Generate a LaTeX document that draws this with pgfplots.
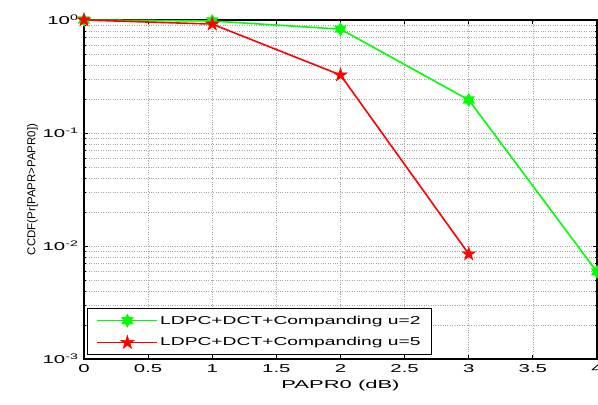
\documentclass[border=0pt]{standalone}
\usepackage{fontspec}
\setmainfont{Liberation Sans}
\newfontfamily\widefont[FakeStretch=1.78]{Liberation Sans}
\newfontfamily\legfont[FakeStretch=1.68]{Liberation Sans}
\newfontfamily\widerfont[FakeStretch=1.92]{Liberation Sans}
\usepackage{pgfplots}
\pgfplotsset{compat=1.18}
\pgfdeclareplotmark{hexstar}{%
  \pgfpathmoveto{\pgfqpointpolar{90}{\pgfplotmarksize}}%
  \foreach \a in {1,...,11}{%
    \pgfmathsetmacro{\ang}{90+30*\a}%
    \ifodd\a
      \pgfpathlineto{\pgfpointpolar{\ang}{0.577\pgfplotmarksize}}%
    \else
      \pgfpathlineto{\pgfpointpolar{\ang}{\pgfplotmarksize}}%
    \fi}%
  \pgfpathclose
  \pgfusepathqfillstroke}
\pgfdeclareplotmark{pentstar}{%
  \pgfpathmoveto{\pgfqpointpolar{90}{\pgfplotmarksize}}%
  \foreach \a in {1,...,9}{%
    \pgfmathsetmacro{\ang}{90+36*\a}%
    \ifodd\a
      \pgfpathlineto{\pgfpointpolar{\ang}{0.382\pgfplotmarksize}}%
    \else
      \pgfpathlineto{\pgfpointpolar{\ang}{\pgfplotmarksize}}%
    \fi}%
  \pgfpathclose
  \pgfusepathqfillstroke}
\definecolor{mgreen}{RGB}{0,255,0}
\definecolor{mred}{RGB}{255,0,0}
\begin{document}
\begin{tikzpicture}
\useasboundingbox (-84bp,-46bp) rectangle (514bp,359bp);
\begin{axis}[
  at={(0,0)}, anchor=south west,
  scale only axis, width=513bp, height=339bp,
  xmin=0, xmax=4, ymin=1e-3, ymax=1,
  ymode=log,
  xtick={0,0.5,...,4},
  xticklabels={0,0.5,1,1.5,2,2.5,3,3.5,4},
  ytick={1e-3,1e-2,1e-1,1},
  yticklabels={10\textsuperscript{-3},10\textsuperscript{-2},10\textsuperscript{-1},10\textsuperscript{0}},
  tick align=inside,
  xtick pos=both, ytick pos=both,
  major tick length=4bp, minor tick length=2.5bp,
  grid=both,
  major grid style={gray!70, dotted, line width=0.6pt},
  minor grid style={gray!70, dotted, line width=0.6pt},
  axis line style={black, line width=1.2pt},
  tick style={black, line width=0.8pt},
  every tick label/.append style={font=\widefont\fontsize{11.5}{13}\selectfont},
  /pgf/number format/assume math mode=true,
  xticklabel style={yshift=-2bp},
  yticklabel style={xshift=-2bp},
  xlabel={\widerfont PAPR0 (dB)},
  ylabel={CCDF(Pr[PAPR>PAPR0])},
  label style={font=\fontsize{11.5}{13}\selectfont},
  xlabel style={yshift=-1bp},
  ylabel style={yshift=-2bp},
  legend style={at={(0.006,0.012)}, anchor=south west, draw=black, line width=1pt,
    font=\legfont\fontsize{11.5}{14}\selectfont, row sep=8bp, inner xsep=9bp, inner ysep=5bp},
  legend cell align=left,
  legend image code/.code={%
    \draw[#1, mark repeat=2, mark phase=2] plot coordinates {(0bp,0bp) (30bp,0bp) (60bp,0bp)};},
]
\addplot[color=mgreen, line width=1.6pt, mark=hexstar, mark size=5.5bp, mark options={fill=none, line width=1.6pt}]
  coordinates {(0,1) (1,0.98) (2,0.83) (3,0.196) (4,0.0059)};
\addlegendentry{LDPC+DCT+Companding u=2}
\addplot[color=mred, line width=1.6pt, mark=pentstar, mark size=7bp, mark options={fill=mred, line width=0.6pt}]
  coordinates {(0,1) (1,0.92) (2,0.326) (3,0.0085)};
\addlegendentry{LDPC+DCT+Companding u=5}
\end{axis}
\end{tikzpicture}
\end{document}
